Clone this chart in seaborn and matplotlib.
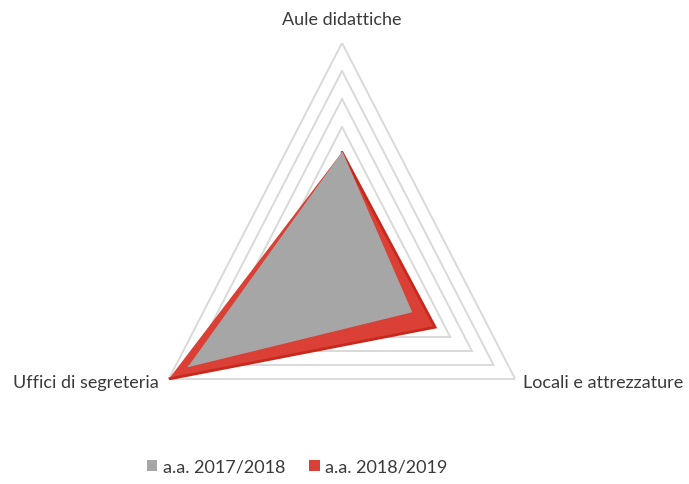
import numpy as np
import pandas as pd
import matplotlib
matplotlib.use("Agg")
import matplotlib.pyplot as plt
from matplotlib.patches import Patch
import seaborn as sns

# Survey areas (clockwise from the top) and scores per academic year
categories = ["Aule didattiche", "Locali e attrezzature", "Uffici di segreteria"]
years = ["a.a. 2017/2018", "a.a. 2018/2019"]
values_2017 = [20.5, 16.0, 35.5]
values_2018 = [20.5, 21.5, 40.0]
ring_levels = [25, 30, 35, 40]
r_max = 40

colors = {"a.a. 2017/2018": "#A6A6A6", "a.a. 2018/2019": "#DA4035"}
edge_colors = {"a.a. 2017/2018": "#A6A6A6", "a.a. 2018/2019": "#C9281C"}

sns.set_theme(style="white")
plt.rcParams["font.family"] = ["Lato", "DejaVu Sans"]

n = len(categories)
angles = np.arange(n) * 2 * np.pi / n
closed = np.append(angles, angles[0])

rows = []
for year, vals in zip(years, [values_2017, values_2018]):
    for i, (cat, v) in enumerate(zip(categories + [categories[0]], vals + [vals[0]])):
        rows.append({"year": year, "category": cat, "theta": closed[i], "value": v, "order": i})
df = pd.DataFrame(rows)

fig = plt.figure(figsize=(6.89, 4.85), dpi=100)
W, H = 689, 485
cx, cy, rx, ry = 342, 268, 200, 224
ax = fig.add_axes([(cx - rx) / W, (H - cy - ry) / H, 2 * rx / W, 2 * ry / H],
                  projection="polar")
ax.set_aspect("auto")
ax.set_theta_offset(np.pi / 2)
ax.set_theta_direction(-1)
ax.set_ylim(0, r_max)
ax.grid(False)
ax.set_xticks([])
ax.set_yticks([])
ax.spines["polar"].set_visible(False)

# Triangular grid rings
for lvl in ring_levels:
    ax.plot(closed, [lvl] * (n + 1), color="#D9D9D9", lw=1.4, zorder=1,
            solid_joinstyle="miter")

# Series: later year underneath, earlier year on top
for year, z in [("a.a. 2018/2019", 2), ("a.a. 2017/2018", 4)]:
    sub = df[df["year"] == year].sort_values("order")
    ax.fill(sub["theta"], sub["value"], color=colors[year], zorder=z, lw=0)
    sns.lineplot(data=sub, x="theta", y="value", sort=False, ax=ax,
                 color=edge_colors[year], lw=2.0 if z == 2 else 1.0,
                 zorder=z + 0.5, legend=False)
ax.set_xlabel("")
ax.set_ylabel("")
for line in ax.lines:
    line.set_solid_joinstyle("miter")

# Category labels at the outer vertices
label_offsets = [((0, 24), "center", "center"),
                 ((8, -3), "left", "center"),
                 ((-10, -3), "right", "center")]
for ang, cat, (off, ha, va) in zip(angles, categories, label_offsets):
    ax.annotate(cat, xy=(ang, r_max), xytext=off, textcoords="offset pixels",
                ha=ha, va=va, fontsize=13, color="#3A3A3A", annotation_clip=False)

handles = [Patch(facecolor=colors[y], edgecolor="none", label=y) for y in years]
fig.legend(handles=handles, loc="center", bbox_to_anchor=(297 / W, 1 - 468 / H),
           ncol=2, frameon=False, fontsize=13, handlelength=0.6, handleheight=0.6,
           handletextpad=0.3, columnspacing=1.3, labelcolor="#3A3A3A")

fig.savefig("out.png", dpi=100, facecolor="white")
